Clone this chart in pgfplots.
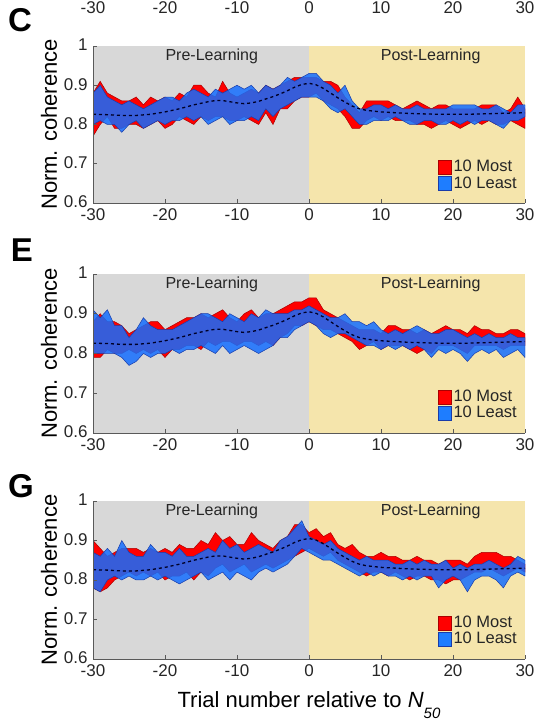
\documentclass[border=0pt]{standalone}
\usepackage{fontspec}
\setmainfont{Liberation Sans}
\usepackage{pgfplots}
\usepackage{pgfplotstable}
\pgfplotsset{compat=1.18}
\usepgfplotslibrary{fillbetween}
\definecolor{bggray}{RGB}{216,216,216}
\definecolor{bgyellow}{RGB}{245,229,172}
\definecolor{bandred}{RGB}{255,0,0}
\definecolor{edgered}{RGB}{170,0,0}
\definecolor{bandblue}{RGB}{20,110,255}
\definecolor{edgeblue}{RGB}{25,60,170}
\definecolor{legblue}{RGB}{30,125,255}
\definecolor{txt}{RGB}{38,38,38}

\pgfplotstableread{
x rl ru bl bu
-30 0.77 0.88 0.80 0.88
-29 0.80 0.91 0.81 0.90
-28 0.82 0.88 0.80 0.87
-27 0.79 0.87 0.80 0.86
-26 0.79 0.86 0.78 0.85
-25 0.80 0.86 0.80 0.86
-24 0.80 0.87 0.81 0.85
-23 0.79 0.85 0.79 0.84
-22 0.80 0.87 0.80 0.85
-21 0.81 0.86 0.81 0.86
-20 0.79 0.87 0.80 0.87
-19 0.80 0.86 0.81 0.87
-18 0.82 0.88 0.81 0.86
-17 0.81 0.87 0.82 0.88
-16 0.80 0.90 0.81 0.89
-15 0.82 0.90 0.82 0.88
-14 0.81 0.88 0.80 0.87
-13 0.82 0.87 0.81 0.89
-12 0.82 0.91 0.82 0.88
-11 0.81 0.88 0.80 0.89
-10 0.81 0.87 0.81 0.90
-9 0.82 0.88 0.81 0.89
-8 0.81 0.89 0.82 0.90
-7 0.80 0.88 0.81 0.88
-6 0.83 0.90 0.84 0.90
-5 0.80 0.89 0.82 0.89
-4 0.84 0.90 0.84 0.90
-3 0.84 0.91 0.85 0.92
-2 0.86 0.92 0.86 0.91
-1 0.87 0.92 0.87 0.92
0 0.87 0.92 0.87 0.93
1 0.88 0.92 0.87 0.93
2 0.86 0.91 0.86 0.91
3 0.85 0.91 0.84 0.90
4 0.84 0.90 0.83 0.88
5 0.82 0.87 0.84 0.90
6 0.79 0.85 0.82 0.86
7 0.79 0.83 0.80 0.84
8 0.81 0.86 0.80 0.84
9 0.82 0.86 0.81 0.85
10 0.81 0.86 0.81 0.85
11 0.82 0.86 0.81 0.84
12 0.81 0.85 0.82 0.85
13 0.81 0.84 0.81 0.84
14 0.81 0.85 0.80 0.84
15 0.80 0.86 0.80 0.85
16 0.80 0.85 0.81 0.84
17 0.79 0.84 0.81 0.84
18 0.80 0.85 0.80 0.84
19 0.81 0.85 0.80 0.84
20 0.80 0.84 0.81 0.85
21 0.79 0.84 0.80 0.85
22 0.80 0.84 0.81 0.85
23 0.81 0.84 0.80 0.85
24 0.80 0.85 0.81 0.84
25 0.81 0.85 0.81 0.84
26 0.80 0.85 0.80 0.85
27 0.80 0.83 0.79 0.84
28 0.81 0.84 0.81 0.83
29 0.80 0.87 0.81 0.85
30 0.79 0.84 0.82 0.85
}\dataC

\pgfplotstableread{
x rl ru bl bu
-30 0.79 0.88 0.80 0.91
-29 0.79 0.90 0.80 0.89
-28 0.81 0.88 0.80 0.91
-27 0.80 0.88 0.80 0.87
-26 0.80 0.87 0.79 0.87
-25 0.81 0.85 0.77 0.84
-24 0.80 0.86 0.78 0.86
-23 0.81 0.87 0.80 0.89
-22 0.80 0.88 0.79 0.87
-21 0.81 0.88 0.80 0.86
-20 0.79 0.86 0.80 0.86
-19 0.81 0.87 0.81 0.86
-18 0.81 0.88 0.80 0.87
-17 0.82 0.89 0.81 0.88
-16 0.82 0.89 0.81 0.89
-15 0.81 0.90 0.82 0.90
-14 0.83 0.89 0.81 0.90
-13 0.82 0.90 0.80 0.89
-12 0.83 0.91 0.82 0.88
-11 0.83 0.89 0.80 0.90
-10 0.82 0.88 0.81 0.89
-9 0.83 0.90 0.82 0.88
-8 0.83 0.91 0.81 0.90
-7 0.82 0.89 0.80 0.89
-6 0.83 0.90 0.81 0.91
-5 0.82 0.90 0.82 0.90
-4 0.84 0.91 0.84 0.90
-3 0.85 0.92 0.84 0.90
-2 0.87 0.93 0.86 0.91
-1 0.87 0.93 0.87 0.91
0 0.88 0.94 0.88 0.92
1 0.87 0.94 0.87 0.91
2 0.86 0.91 0.85 0.90
3 0.86 0.90 0.84 0.89
4 0.85 0.89 0.85 0.89
5 0.84 0.88 0.85 0.90
6 0.83 0.87 0.84 0.88
7 0.81 0.86 0.83 0.88
8 0.82 0.86 0.82 0.87
9 0.83 0.86 0.82 0.88
10 0.81 0.85 0.81 0.86
11 0.82 0.87 0.82 0.85
12 0.82 0.87 0.81 0.86
13 0.82 0.86 0.82 0.85
14 0.81 0.86 0.81 0.86
15 0.80 0.85 0.82 0.87
16 0.81 0.86 0.81 0.86
17 0.80 0.85 0.79 0.85
18 0.82 0.86 0.81 0.85
19 0.82 0.87 0.80 0.86
20 0.82 0.86 0.81 0.86
21 0.81 0.86 0.80 0.85
22 0.80 0.85 0.78 0.84
23 0.82 0.87 0.80 0.85
24 0.82 0.86 0.81 0.84
25 0.82 0.86 0.80 0.85
26 0.82 0.85 0.81 0.84
27 0.81 0.85 0.79 0.84
28 0.82 0.86 0.80 0.85
29 0.82 0.86 0.81 0.84
30 0.82 0.85 0.79 0.84
}\dataE

\pgfplotstableread{
x rl ru bl bu
-30 0.78 0.90 0.78 0.87
-29 0.77 0.88 0.77 0.86
-28 0.78 0.86 0.80 0.88
-27 0.80 0.87 0.81 0.86
-26 0.81 0.88 0.80 0.90
-25 0.82 0.88 0.81 0.87
-24 0.81 0.88 0.80 0.86
-23 0.82 0.87 0.80 0.86
-22 0.81 0.88 0.81 0.89
-21 0.82 0.87 0.80 0.87
-20 0.80 0.88 0.81 0.87
-19 0.81 0.87 0.80 0.86
-18 0.81 0.89 0.79 0.88
-17 0.82 0.88 0.80 0.86
-16 0.80 0.88 0.81 0.86
-15 0.82 0.90 0.82 0.87
-14 0.81 0.89 0.80 0.88
-13 0.83 0.92 0.81 0.87
-12 0.84 0.90 0.82 0.90
-11 0.82 0.91 0.80 0.88
-10 0.83 0.89 0.82 0.89
-9 0.84 0.89 0.81 0.87
-8 0.82 0.92 0.80 0.88
-7 0.83 0.90 0.82 0.89
-6 0.84 0.89 0.83 0.88
-5 0.83 0.88 0.82 0.87
-4 0.84 0.90 0.83 0.90
-3 0.85 0.91 0.84 0.91
-2 0.86 0.94 0.86 0.93
-1 0.87 0.94 0.88 0.95
0 0.88 0.92 0.87 0.91
1 0.87 0.93 0.86 0.90
2 0.86 0.91 0.85 0.89
3 0.87 0.92 0.85 0.90
4 0.85 0.89 0.84 0.88
5 0.84 0.88 0.83 0.87
6 0.83 0.89 0.82 0.86
7 0.82 0.87 0.81 0.85
8 0.81 0.86 0.82 0.86
9 0.82 0.86 0.81 0.85
10 0.82 0.87 0.82 0.85
11 0.81 0.86 0.81 0.85
12 0.82 0.86 0.81 0.84
13 0.81 0.85 0.80 0.84
14 0.80 0.85 0.81 0.85
15 0.81 0.86 0.80 0.84
16 0.81 0.85 0.81 0.85
17 0.80 0.85 0.81 0.84
18 0.80 0.84 0.78 0.84
19 0.79 0.85 0.80 0.85
20 0.80 0.85 0.81 0.83
21 0.80 0.85 0.80 0.84
22 0.81 0.84 0.77 0.83
23 0.82 0.86 0.80 0.84
24 0.82 0.87 0.81 0.84
25 0.83 0.87 0.81 0.85
26 0.82 0.87 0.80 0.84
27 0.81 0.86 0.78 0.83
28 0.82 0.86 0.81 0.84
29 0.83 0.85 0.82 0.86
30 0.82 0.84 0.81 0.85
}\dataG

\pgfplotstableread{
x y
-30 0.826
-28 0.825
-26 0.823
-24 0.823
-22 0.826
-20 0.832
-18 0.840
-16 0.850
-14 0.858
-13 0.861
-12 0.861
-11 0.858
-10 0.855
-9 0.853
-8 0.855
-7 0.859
-6 0.865
-5 0.871
-4 0.878
-3 0.886
-2 0.895
-1 0.902
0 0.905
1 0.901
2 0.892
3 0.880
4 0.868
5 0.857
6 0.847
7 0.840
8 0.836
9 0.834
10 0.832
12 0.830
14 0.828
16 0.827
18 0.826
20 0.826
22 0.826
24 0.827
26 0.828
28 0.829
30 0.830
}\meanline

\pgfplotsset{
  panel/.style={
    scale only axis, width=432pt,
    set layers, axis on top,
    xmin=-30, xmax=30, ymin=0.6, ymax=1,
    axis x line*=bottom, axis y line*=left,
    xtick={-30,-20,-10,0,10,20,30},
    ytick={0.6,0.7,0.8,0.9,1},
    tick align=inside, major tick length=4pt,
    axis line style={draw=black!65, line width=0.8pt, -},
    tick style={draw=black!65, line width=0.8pt},
    ticklabel style={font=\fontsize{17}{20}\selectfont, text=txt},
    xticklabel style={yshift=-2pt},
    yticklabel style={xshift=-2pt, yshift=1pt},
    /pgf/number format/assume math mode=true,
    ylabel={Norm. coherence},
    ylabel style={font=\fontsize{22}{26}\selectfont, text=black},
    legend style={at={(rel axis cs:0.985,0.075)}, anchor=south east,
      draw=none, fill=none, font=\fontsize{16.5}{19}\selectfont,
      row sep=0pt, inner sep=0pt, text=txt,
      nodes={inner sep=1.5pt}},
    legend cell align=left,
    legend image code/.code={\draw[#1] (0pt,-7pt) rectangle (13pt,7pt);},
  }
}

\newcommand{\panelbody}[1]{%
  \addplot[on layer=axis background, fill=bggray, draw=none, forget plot]
    coordinates {(-30,0.6) (0,0.6) (0,1) (-30,1)} -- cycle;
  \addplot[on layer=axis background, fill=bgyellow, draw=none, forget plot]
    coordinates {(0,0.6) (30,0.6) (30,1) (0,1)} -- cycle;
  \addplot[draw=none, name path=ru, forget plot] table[x=x,y=ru]{#1};
  \addplot[draw=none, name path=rl, forget plot] table[x=x,y=rl]{#1};
  \addplot[draw=none, name path=bu, forget plot] table[x=x,y=bu]{#1};
  \addplot[draw=none, name path=bl, forget plot] table[x=x,y=bl]{#1};
  \addplot[fill=bandred, draw=edgered, line width=0.5pt, forget plot] fill between[of=ru and rl];
  \addplot[fill=bandblue, fill opacity=0.85, draw=edgeblue, line width=0.5pt, forget plot] fill between[of=bu and bl];
  \addplot[black!85!blue, dashed, line width=1.3pt, dash pattern=on 3pt off 3pt, forget plot] table[x=x,y=y]{\meanline};
  \node[font=\fontsize{16}{19}\selectfont, text=txt] at (axis cs:-13.5,0.973) {Pre-Learning};
  \node[font=\fontsize{16}{19}\selectfont, text=txt] at (axis cs:16.9,0.973) {Post-Learning};
  \addlegendimage{fill=bandred, draw=edgered, line width=0.6pt}
  \addlegendentry{10 Most}
  \addlegendimage{fill=legblue, draw=edgeblue, line width=0.6pt}
  \addlegendentry{10 Least}
}

\begin{document}
\begin{tikzpicture}
% stub of the previous panel: only its x tick labels remain visible
\begin{axis}[scale only axis, width=432pt, height=6pt,
  at={(93pt,729pt)}, anchor=south west,
  xmin=-30, xmax=30, ymin=0, ymax=1,
  xtick={-30,-20,-10,0,10,20,30}, ytick=\empty,
  axis line style={draw=none}, tick style={draw=none},
  ticklabel style={font=\fontsize{17}{20}\selectfont, text=txt},
  /pgf/number format/assume math mode=true]
\addplot[draw=none] coordinates {(0,0.5)};
\end{axis}

\begin{axis}[panel, height=157pt, at={(93pt,524pt)}, anchor=south west]
\panelbody{\dataC}
\end{axis}

\begin{axis}[panel, height=159pt, at={(93pt,294pt)}, anchor=south west]
\panelbody{\dataE}
\end{axis}

\begin{axis}[panel, height=158pt, at={(93pt,68pt)}, anchor=south west,
  xlabel={Trial number relative to \textit{N}\raisebox{-0.5em}{\fontsize{15}{15}\selectfont\textit{50}}},
  xlabel style={font=\fontsize{22}{26}\selectfont, text=black, yshift=-8pt}]
\panelbody{\dataG}
\end{axis}

\node[font=\fontsize{33}{36}\selectfont\bfseries] at (20pt,707pt) {C};
\node[font=\fontsize{33}{36}\selectfont\bfseries] at (22pt,477pt) {E};
\node[font=\fontsize{33}{36}\selectfont\bfseries] at (21pt,241pt) {G};

\pgfresetboundingbox
\path[use as bounding box] (0pt,0pt) rectangle (535pt,727pt);
\end{tikzpicture}
\end{document}
